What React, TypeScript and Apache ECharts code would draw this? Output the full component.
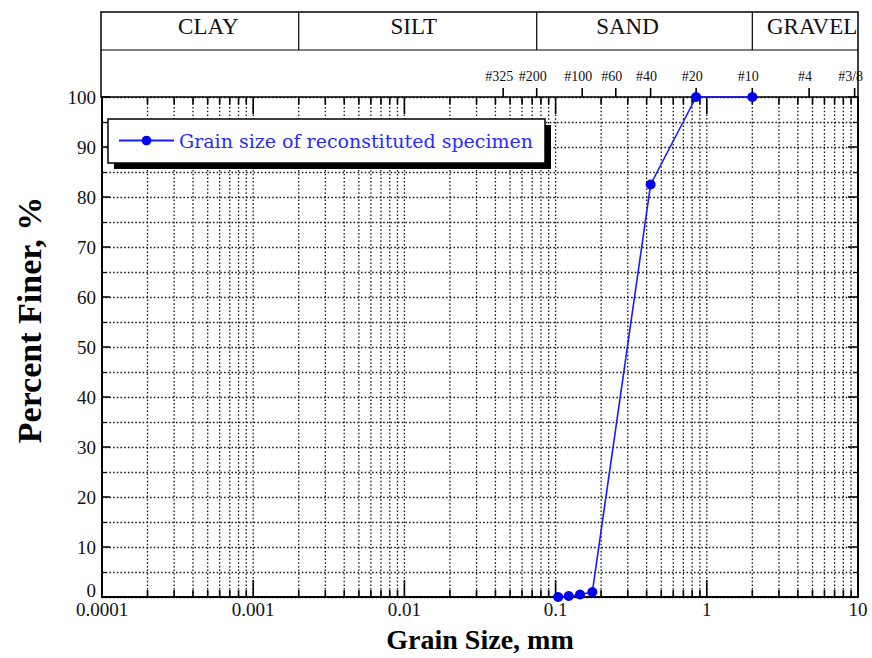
import React, { useEffect, useRef } from "react";
import * as echarts from "echarts";

// Measured gradation (grain size in mm, percent finer)
const grainSize = [0.104, 0.122, 0.145, 0.175, 0.425, 0.85, 2.0];
const percentFiner = [0, 0.2, 0.5, 1.0, 82.5, 100, 100];
const seriesName = "Grain size of reconstituted specimen";

// Sieve marks on top axis
const sieveSizes = [0.045, 0.075, 0.15, 0.25, 0.425, 0.85, 2.0, 4.75, 9.5];
const sieveLabels = ["#325", "#200", "#100", "#60", "#40", "#20", "#10", "#4", "#3/8"];

// Soil classification bands (mm)
const zoneNames = ["CLAY", "SILT", "SAND", "GRAVEL"];
const zoneLower = [0.0001, 0.002, 0.075, 2];
const zoneUpper = [0.002, 0.075, 2, 10];

// Log-axis tick positions (decade × 1..9)
const decades = [0.0001, 0.001, 0.01, 0.1, 1];
const tickMultipliers = [1, 2, 3, 4, 5, 6, 7, 8, 9];

const FONT = "'Liberation Serif', 'Times New Roman', serif";

export default function App() {
  const ref = useRef<HTMLDivElement>(null);

  useEffect(() => {
    document.body.style.margin = "0";
    const chart = echarts.init(ref.current!, null, { renderer: "svg" });

    const tickValues: number[][] = [];
    decades.forEach((d) => tickMultipliers.forEach((k) => tickValues.push([k * d])));
    tickValues.push([10]);

    // horizontal nudges for the zone titles (layout only)
    const zoneLabelShift = [8, -4, -17, 7];

    const option: any = {
      animation: false,
      backgroundColor: "#fff",
      grid: { left: 102, right: 14, top: 97, bottom: 61, containLabel: false },
      legend: {
        data: [seriesName],
        left: 108,
        top: 119,
        orient: "horizontal",
        backgroundColor: "transparent",
        borderWidth: 0,
        padding: [12, 13, 13, 10],
        itemWidth: 55,
        itemHeight: 12,
        itemGap: 6,
        z: 10,
        textStyle: { color: "#2a2aff", fontSize: 19, fontFamily: "'DejaVu Serif', serif" },
      },
      graphic: [
        { type: "rect", shape: { x: 114, y: 125, width: 437, height: 44 }, style: { fill: "#000" }, z: 6 },
        { type: "rect", shape: { x: 108, y: 119, width: 437, height: 44 }, style: { fill: "#fff", stroke: "#000", lineWidth: 1.5 }, z: 7 },
        { type: "rect", shape: { x: 101, y: 12, width: 757, height: 85 }, style: { fill: "none", stroke: "#000", lineWidth: 1.5 }, z: 5 },
        { type: "line", shape: { x1: 101, y1: 50, x2: 858, y2: 50 }, style: { stroke: "#000", lineWidth: 1.2 }, z: 5 },
      ],
      xAxis: [
        {
          type: "log",
          logBase: 10,
          min: 0.0001,
          max: 10,
          position: "bottom",
          name: "Grain Size, mm",
          nameLocation: "middle",
          nameGap: 28,
          nameTextStyle: { fontFamily: FONT, fontWeight: "bold", fontSize: 28, color: "#000", verticalAlign: "top" },
          axisLine: { show: true, lineStyle: { color: "#000", width: 2 } },
          axisTick: { show: false },
          splitLine: { show: false },
          axisLabel: {
            fontFamily: FONT,
            fontSize: 19,
            color: "#111",
            margin: 3,
            formatter: (v: number) => String(Number(v.toPrecision(3))),
          },
        },
        {
          type: "log",
          logBase: 10,
          min: 0.0001,
          max: 10,
          position: "top",
          axisLine: { show: true, lineStyle: { color: "#000", width: 2 } },
          axisTick: { show: false },
          axisLabel: { show: false },
          splitLine: { show: false },
        },
      ],
      yAxis: [
        {
          type: "value",
          min: 0,
          max: 100,
          interval: 10,
          position: "left",
          name: "Percent Finer, %",
          nameLocation: "middle",
          nameGap: 56,
          nameTextStyle: { fontFamily: FONT, fontWeight: "bold", fontSize: 34, color: "#000", padding: [0, 0, 0, 54] },
          axisLine: { show: true, lineStyle: { color: "#000", width: 2 } },
          axisTick: { show: true, inside: true, length: 8, lineStyle: { color: "#000", width: 1.5 } },
          minorTick: { show: true, splitNumber: 2, length: 4, lineStyle: { color: "#000", width: 1.2 } },
          axisLabel: {
            fontFamily: FONT,
            fontSize: 19,
            color: "#111",
            margin: 6,
            formatter: (v: number) => (v === 0 ? "{z|0}" : String(v)),
            rich: { z: { fontFamily: FONT, fontSize: 19, color: "#111", padding: [0, 0, 14, 0] } },
          },
          splitLine: { show: true, lineStyle: { color: "#111", width: 1.3, type: [1.5, 2.2] } },
          minorSplitLine: { show: true, lineStyle: { color: "#111", width: 1.3, type: [1.5, 2.2] } },
        },
        {
          type: "value",
          min: 0,
          max: 100,
          interval: 10,
          position: "right",
          axisLine: { show: true, lineStyle: { color: "#000", width: 2 } },
          axisTick: { show: true, inside: true, length: 10, lineStyle: { color: "#000", width: 1.5 } },
          minorTick: { show: true, splitNumber: 2, length: 5, lineStyle: { color: "#000", width: 1.2 } },
          axisLabel: { show: false },
          splitLine: { show: false },
        },
      ],
      series: [
        {
          type: "custom",
          name: "vgrid",
          xAxisIndex: 0,
          yAxisIndex: 0,
          clip: false,
          silent: true,
          z: 1,
          data: tickValues,
          encode: { x: 0 },
          renderItem: (params: any, api: any) => {
            const v = api.value(0);
            const b = api.coord([v, 0]);
            const t = api.coord([v, 100]);
            const lg = Math.log10(v);
            const major = Math.abs(lg - Math.round(lg)) < 1e-6;
            const edge = v < 0.00011 || v > 9.9;
            const len = major ? 17 : 7;
            const children: any[] = [];
            if (!edge) {
              children.push({
                type: "line",
                shape: { x1: b[0], y1: b[1], x2: t[0], y2: t[1] },
                style: { stroke: "#111", lineWidth: 1.3, lineDash: [1.5, 2.2] },
              });
            }
            children.push({
              type: "line",
              shape: { x1: b[0], y1: b[1], x2: b[0], y2: b[1] - len },
              style: { stroke: "#000", lineWidth: 1.6 },
            });
            children.push({
              type: "line",
              shape: { x1: t[0], y1: t[1], x2: t[0], y2: t[1] + len },
              style: { stroke: "#000", lineWidth: 1.6 },
            });
            return { type: "group", children };
          },
        },
        {
          type: "custom",
          name: "sieves",
          xAxisIndex: 0,
          yAxisIndex: 0,
          clip: false,
          silent: true,
          z: 3,
          data: sieveSizes.map((s) => [s]),
          encode: { x: 0 },
          renderItem: (params: any, api: any) => {
            const v = api.value(0);
            const t = api.coord([v, 100]);
            return {
              type: "group",
              children: [
                {
                  type: "line",
                  shape: { x1: t[0], y1: t[1], x2: t[0], y2: t[1] - 9 },
                  style: { stroke: "#000", lineWidth: 1.6 },
                },
                {
                  type: "text",
                  x: t[0] - 4,
                  y: t[1] - 14,
                  style: {
                    text: sieveLabels[params.dataIndex],
                    fontFamily: FONT,
                    fontSize: 14,
                    fill: "#111",
                    align: "center",
                    verticalAlign: "bottom",
                  },
                },
              ],
            };
          },
        },
        {
          type: "custom",
          name: "zones",
          xAxisIndex: 0,
          yAxisIndex: 0,
          clip: false,
          silent: true,
          z: 3,
          data: zoneLower.map((lo, i) => [lo, zoneUpper[i]]),
          encode: { x: [0, 1] },
          renderItem: (params: any, api: any) => {
            const lo = api.coord([api.value(0), 100]);
            const hi = api.coord([api.value(1), 100]);
            const children: any[] = [];
            if (api.value(1) < 9.9) {
              children.push({
                type: "line",
                shape: { x1: hi[0], y1: hi[1] - 85, x2: hi[0], y2: hi[1] - 47 },
                style: { stroke: "#000", lineWidth: 1.2 },
              });
            }
            const i = params.dataIndex;
            children.push({
              type: "text",
              x: (lo[0] + hi[0]) / 2 + zoneLabelShift[i],
              y: lo[1] - 71,
              style: {
                text: zoneNames[i],
                fontFamily: FONT,
                fontSize: 23,
                fill: "#111",
                align: "center",
                verticalAlign: "middle",
              },
            });
            return { type: "group", children };
          },
        },
        {
          type: "line",
          name: seriesName,
          xAxisIndex: 0,
          yAxisIndex: 0,
          z: 5,
          clip: false,
          data: grainSize.map((g, i) => [g, percentFiner[i]]),
          symbol: "circle",
          symbolSize: 10,
          itemStyle: { color: "#0000f0" },
          lineStyle: { color: "#1a1aff", width: 1.6 },
        },
      ],
    };

    chart.setOption(option);
    return () => chart.dispose();
  }, []);

  return <div ref={ref} style={{ width: 872, height: 658 }} />;
}
